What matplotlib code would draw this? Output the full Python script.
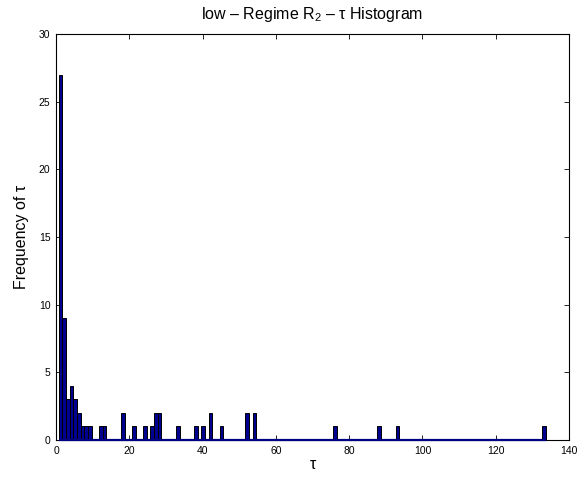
import numpy as np
import matplotlib
matplotlib.use("Agg")
import matplotlib.pyplot as plt

plt.rcParams['font.family'] = ['Liberation Sans', 'DejaVu Sans']
plt.rcParams['mathtext.fontset'] = 'custom'
plt.rcParams['mathtext.rm'] = 'Liberation Sans'
plt.rcParams['mathtext.it'] = 'Liberation Sans'

# tau values (bin centres) that have non-zero counts, and their counts
tau_values = [1, 2, 3, 4, 5, 6, 7, 8, 9, 12, 13, 18, 21, 24, 26, 27, 28,
              33, 38, 40, 42, 45, 52, 54, 76, 88, 93, 133]
tau_counts = [27, 9, 3, 4, 3, 2, 1, 1, 1, 1, 1, 2, 1, 1, 1, 2, 2,
              1, 1, 1, 2, 1, 2, 2, 1, 1, 1, 1]

# full set of bins from min to max (empty bins show as a line on the baseline)
bins = np.arange(1, 134)
counts = np.zeros(len(bins))
for t, c in zip(tau_values, tau_counts):
    counts[t - 1] = c

fig = plt.figure(figsize=(5.86, 4.78), dpi=100)
ax = fig.add_axes([0.0956, 0.0795, 0.8754, 0.8495])

ax.bar(bins + 0.2, counts, width=1.0, color='#000090', edgecolor='black',
       linewidth=0.7, zorder=2)
ax.plot([bins[0] - 0.3, bins[-1] + 0.7], [0, 0], color='#000080',
        linewidth=1.6, zorder=3, clip_on=False, solid_capstyle='butt')

ax.set_xlim(0, 140)
ax.set_ylim(0, 30)
ax.set_xticks(np.arange(0, 141, 20))
ax.set_yticks(np.arange(0, 31, 5))
ax.tick_params(direction='in', length=3.6, width=0.6, top=True, right=True,
               labelsize=7.5, pad=4)
for s in ax.spines.values():
    s.set_linewidth(0.8)

ax.set_title('low – Regime R$_2$ – τ Histogram', fontsize=11.5, pad=11)
ax.set_xlabel('τ', fontsize=11.5, labelpad=1)
ax.set_ylabel('Frequency of τ', fontsize=11.5, labelpad=7)

fig.savefig('out.png', dpi=100)
